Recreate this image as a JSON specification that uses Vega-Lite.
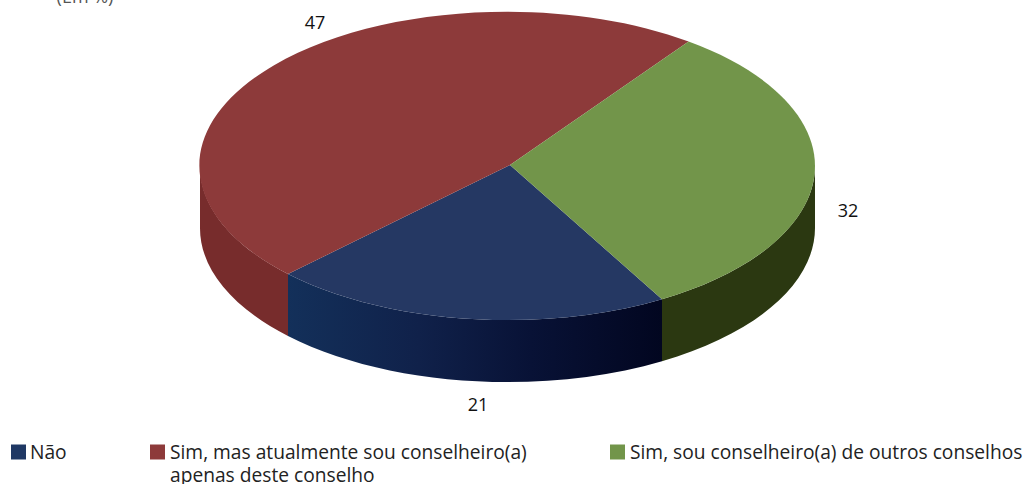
{
  "$schema": "https://vega.github.io/schema/vega-lite/v6.json",
  "width": 1025,
  "height": 484,
  "padding": 0,
  "autosize": {"type": "none"},
  "background": "white",
  "config": {"view": {"stroke": null}, "font": "Open Sans"},
  "data": {"values": [
    {"categoria": "Não", "valor": 21, "legenda": "Não"},
    {"categoria": "Sim, mas atualmente sou conselheiro(a) apenas deste conselho", "valor": 47, "legenda": "Sim, mas atualmente sou conselheiro(a)\napenas deste conselho"},
    {"categoria": "Sim, sou conselheiro(a) de outros conselhos", "valor": 32, "legenda": "Sim, sou conselheiro(a) de outros conselhos"}
  ]},
  "layer": [
    {
      "data": {"values": [{"nota": "(Em %)"}]},
      "mark": {"type": "text", "align": "center", "baseline": "alphabetic", "fontSize": 18, "color": "#555555"},
      "encoding": {
        "text": {"field": "nota", "type": "nominal"},
        "x": {"value": 85},
        "y": {"value": 3}
      }
    },
    {
      "transform": [{"filter": "datum.valor != 21"}],
      "mark": {"type": "point", "filled": true, "opacity": 1},
      "encoding": {
        "size": {"value": 4},
        "shape": {"field": "valor", "type": "nominal", "legend": null, "scale": {"domain": [47, 32], "range": [
          "M-224.5,32 A307.5,154 0 0 1 -312.5,-76 L-312.5,-14 A307.5,154 0 0 0 -224.5,94 Z",
          "M302.5,-76 A307.5,154 0 0 1 149.5,57.2 L149.5,119.2 A307.5,154 0 0 0 302.5,-14 Z"
        ]}},
        "fill": {"field": "valor", "type": "nominal", "legend": null, "scale": {"domain": [47, 32], "range": ["#772c2c", "#2b3811"]}}
      }
    },
    {
      "transform": [{"filter": "datum.valor == 21"}],
      "mark": {"type": "point", "filled": true, "opacity": 1, "fill": {"gradient": "linear", "x1": 0, "y1": 0, "x2": 1, "y2": 0, "stops": [{"offset": 0, "color": "#13305a"}, {"offset": 0.35, "color": "#10214a"}, {"offset": 0.65, "color": "#081236"}, {"offset": 1, "color": "#020620"}]}},
      "encoding": {
        "size": {"value": 4},
        "shape": {"field": "valor", "type": "nominal", "legend": null, "scale": {"domain": [21], "range": [
          "M149.5,57.2 A307.5,154 0 0 1 -224.5,32 L-224.5,94 A307.5,154 0 0 0 149.5,119.2 Z"
        ]}}
      }
    },
    {
      "mark": {"type": "point", "filled": true, "opacity": 1},
      "encoding": {
        "size": {"value": 4},
        "shape": {"field": "valor", "type": "nominal", "legend": null, "scale": {"domain": [21, 47, 32], "range": [
          "M-2.5,-77 L149.5,57.2 A307.5,154 0 0 1 -224.5,32 Z",
          "M-2.5,-77 L-224.5,32 A307.5,154 0 0 1 176.1,-200.4 Z",
          "M-2.5,-77 L176.1,-200.4 A307.5,154 0 0 1 149.5,57.2 Z"
        ]}},
        "fill": {"field": "valor", "type": "nominal", "legend": null, "scale": {"domain": [21, 47, 32], "range": ["#253863", "#8d3a3a", "#72954a"]}}
      }
    },
    {
      "mark": {"type": "text", "align": "center", "baseline": "middle", "fontSize": 18, "color": "#111111"},
      "encoding": {
        "text": {"field": "valor", "type": "quantitative"},
        "x": {"field": "valor", "type": "quantitative", "axis": null, "scale": {"domain": [21, 32, 47], "range": [478, 848, 315]}},
        "y": {"field": "valor", "type": "quantitative", "axis": null, "scale": {"domain": [21, 32, 47], "range": [406, 212, 24]}}
      }
    },
    {
      "mark": {"type": "square", "opacity": 1, "size": 225},
      "encoding": {
        "x": {"field": "valor", "type": "quantitative", "axis": null, "scale": {"domain": [21, 32, 47], "range": [18.5, 617.5, 157.5]}},
        "y": {"field": "valor", "type": "quantitative", "axis": null, "scale": {"domain": [21, 32, 47], "range": [452, 452, 452]}},
        "color": {"field": "valor", "type": "nominal", "legend": null, "scale": {"domain": [21, 47, 32], "range": ["#1f3864", "#8d3a3a", "#72954a"]}}
      }
    },
    {
      "mark": {"type": "text", "align": "left", "baseline": "alphabetic", "fontSize": 19.2, "lineBreak": "\n", "lineHeight": 23, "color": "#222222"},
      "encoding": {
        "text": {"field": "legenda", "type": "nominal"},
        "x": {"field": "valor", "type": "quantitative", "axis": null, "scale": {"domain": [21, 32, 47], "range": [30, 630, 170]}},
        "y": {"field": "valor", "type": "quantitative", "axis": null, "scale": {"domain": [21, 32, 47], "range": [459, 459, 459]}}
      }
    }
  ],
  "resolve": {"scale": {"x": "independent", "y": "independent", "shape": "independent", "fill": "independent", "color": "independent"}}
}
